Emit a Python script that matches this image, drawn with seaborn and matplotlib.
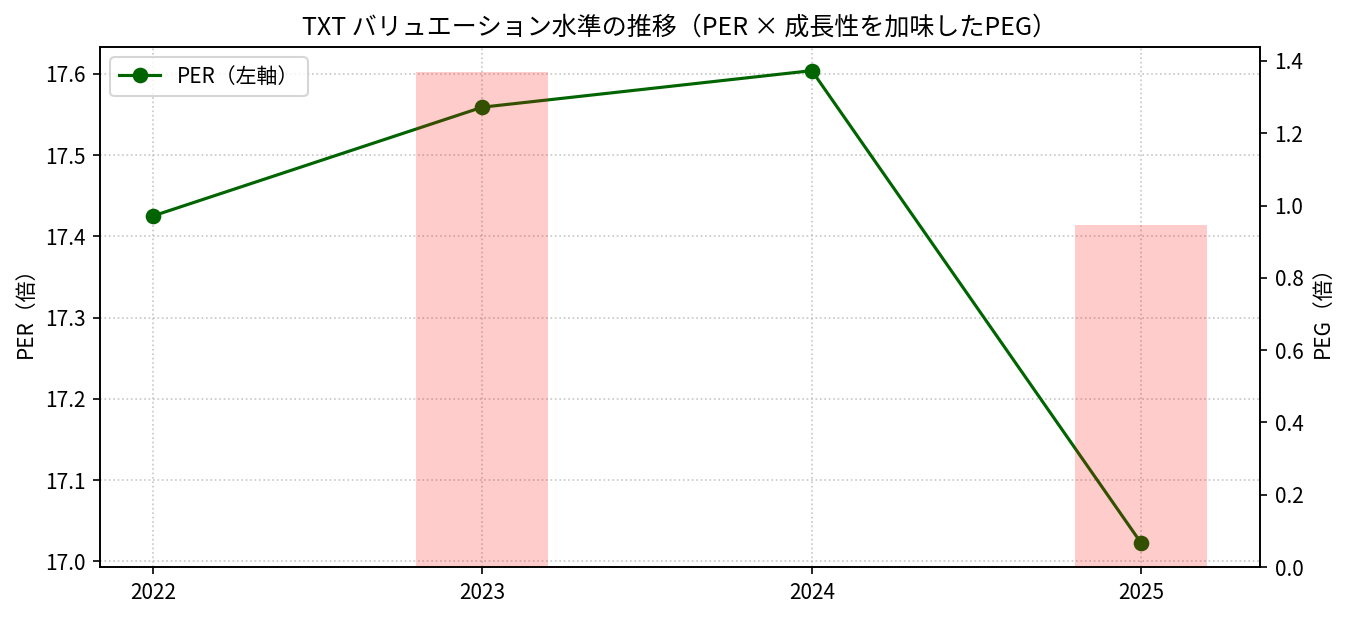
import numpy as np
import pandas as pd
import matplotlib
matplotlib.use("Agg")
import matplotlib.pyplot as plt
import seaborn as sns

plt.rcParams['font.family'] = ['Noto Sans CJK JP', 'DejaVu Sans']
plt.rcParams['axes.unicode_minus'] = False

years = [2022, 2023, 2024, 2025]
per_values = [17.425, 17.559, 17.604, 17.022]
peg_values = [np.nan, 1.370, np.nan, 0.946]
year_labels = ["2022", "2023", "2024", "2025"]

title = "TXT バリュエーション水準の推移（PER × 成長性を加味したPEG）"

W, H, DPI = 1351, 617, 150
fig = plt.figure(figsize=(W / DPI, H / DPI), dpi=DPI)
ax1 = fig.add_axes([100 / W, 1 - 567 / H, (1260 - 100) / W, (567 - 47) / H])
ax2 = ax1.twinx()

per_df = pd.DataFrame({"year": years, "PER": per_values})
peg_df = pd.DataFrame({"year": years, "PEG": peg_values}).dropna()

sns.lineplot(data=per_df, x="year", y="PER", ax=ax1, color="darkgreen",
             marker="o", markersize=6.5, linewidth=1.5,
             markeredgecolor="darkgreen", markeredgewidth=1,
             label="PER（左軸）")

sns.barplot(data=peg_df, x="year", y="PEG", ax=ax2, native_scale=True,
            orient="x", width=0.2, color="red", alpha=0.2, saturation=1,
            linewidth=0, errorbar=None)

ax1.set_xticks(years)
ax1.set_xticklabels(year_labels)
ax1.set_xlabel("")
ax2.set_xlabel("")
ax1.set_ylabel("PER（倍）")
ax2.set_ylabel("PEG（倍）")
ax1.grid(True, linestyle=":", color="#b0b0b0", alpha=0.7)
ax1.set_title(title, fontsize=12)
ax1.legend(loc="upper left")
ax1.tick_params(labelsize=10)
ax2.tick_params(labelsize=10)

fig.savefig("out.png", dpi=DPI)
